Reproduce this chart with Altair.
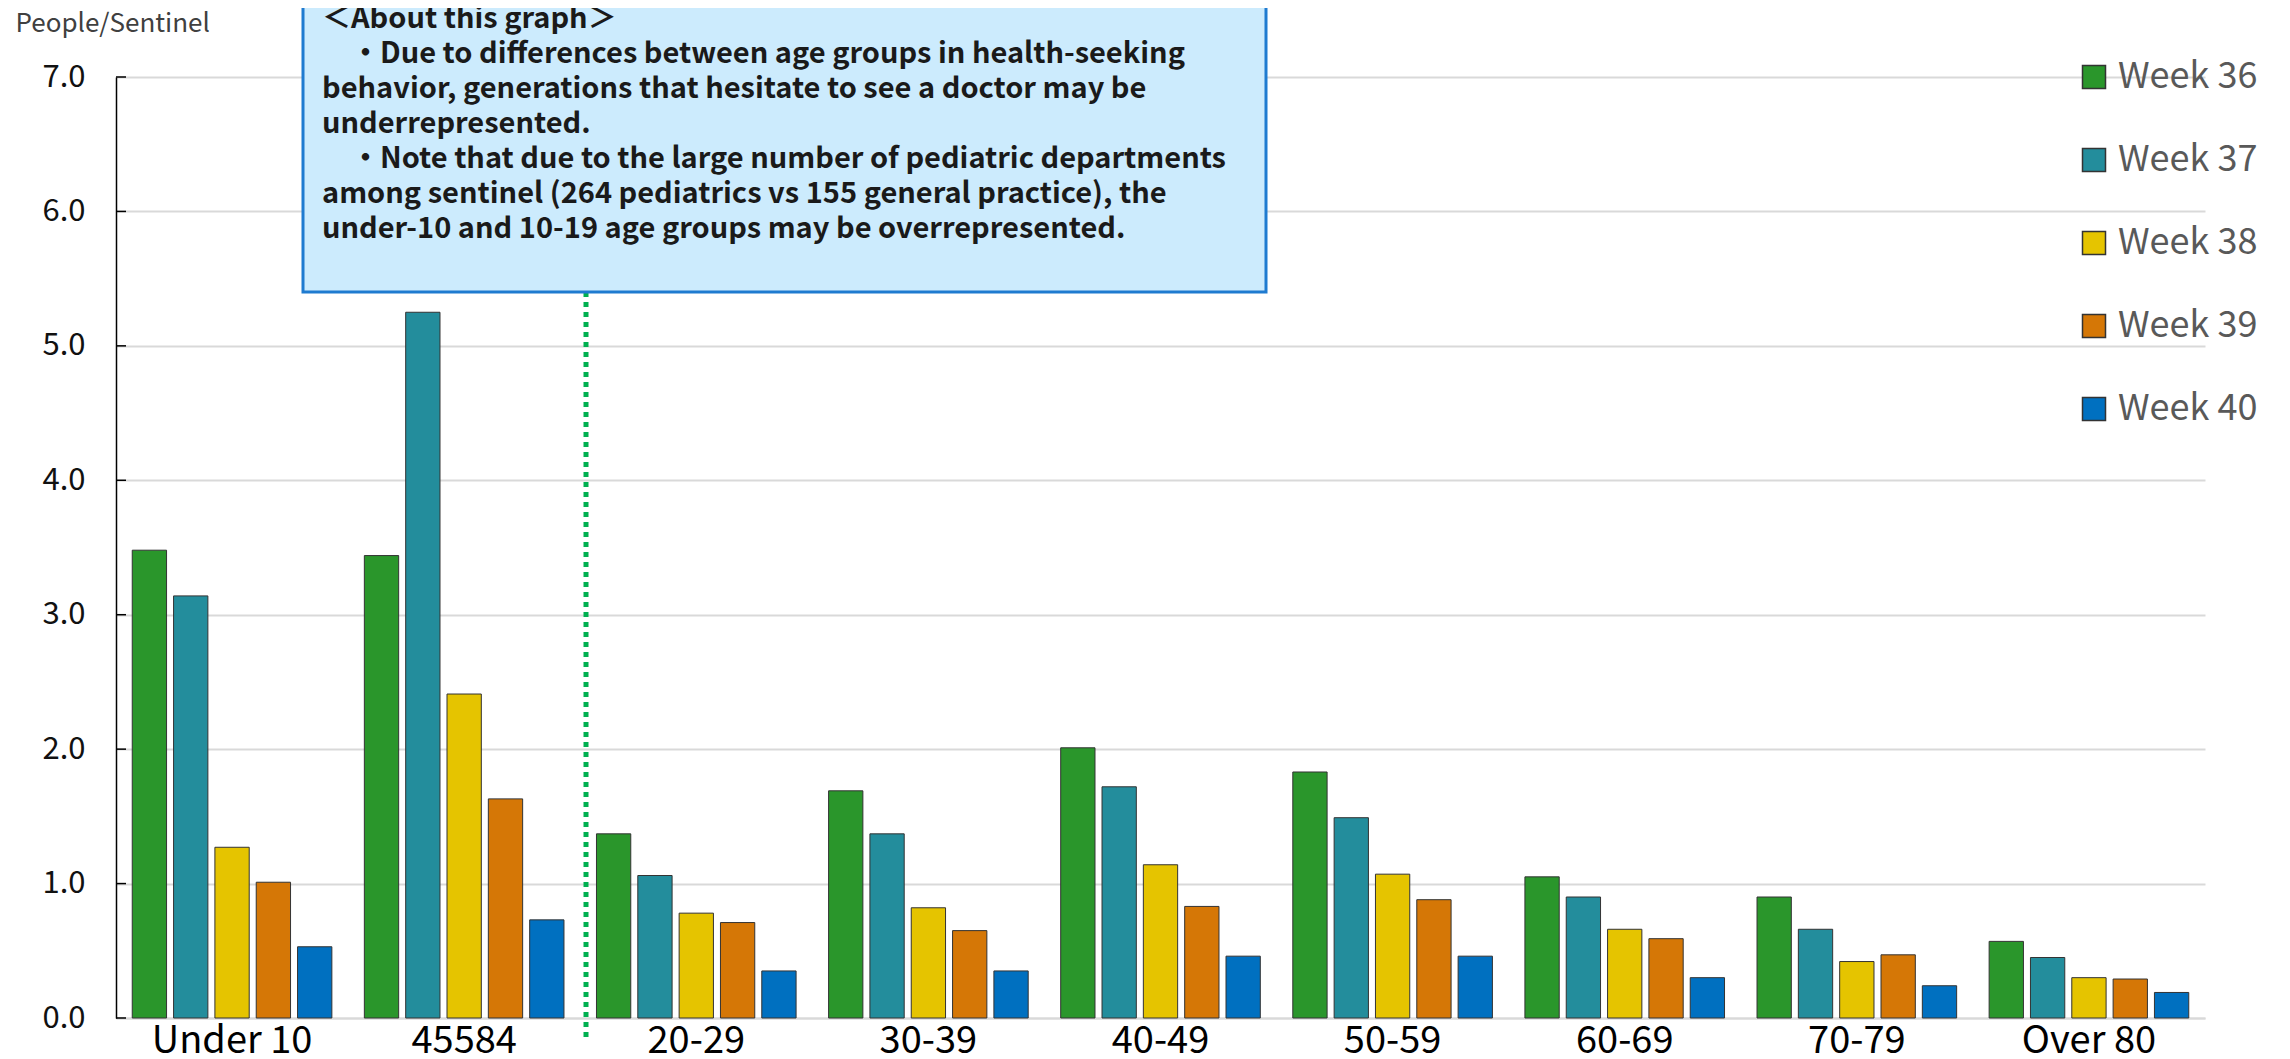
import altair as alt
import pandas as pd

groups = ["Under 10", "45584", "20-29", "30-39", "40-49", "50-59", "60-69", "70-79", "Over 80"]
weeks = ["Week 36", "Week 37", "Week 38", "Week 39", "Week 40"]
colors = ["#2A962B", "#238D9C", "#E5C400", "#D57706", "#0070C0"]

w36 = [3.48, 3.44, 1.37, 1.69, 2.01, 1.83, 1.05, 0.90, 0.57]
w37 = [3.14, 5.25, 1.06, 1.37, 1.72, 1.49, 0.90, 0.66, 0.45]
w38 = [1.27, 2.41, 0.78, 0.82, 1.14, 1.07, 0.66, 0.42, 0.30]
w39 = [1.01, 1.63, 0.71, 0.65, 0.83, 0.88, 0.59, 0.47, 0.29]
w40 = [0.53, 0.73, 0.35, 0.35, 0.46, 0.46, 0.30, 0.24, 0.19]

y_ticks = [0, 1, 2, 3, 4, 5, 6, 7]

INDENT = "\u200b\u3000"
note_lines = [
    "＜About this graph＞",
    INDENT + "・Due to differences between age groups in health-seeking",
    "behavior, generations that hesitate to see a doctor may be",
    "underrepresented.",
    INDENT + "・Note that due to the large number of pediatric departments",
    "among sentinel (264 pediatrics vs 155 general practice), the",
    "under-10 and 10-19 age groups may be overrepresented.",
]

FONT = "Noto Sans CJK JP"

rows = []
for wk, vals in zip(weeks, [w36, w37, w38, w39, w40]):
    for g, v in zip(groups, vals):
        rows.append({"group": g, "week": wk, "value": v})
df = pd.DataFrame(rows)

bars = alt.Chart(df).mark_bar(stroke="#333333", strokeWidth=1).encode(
    x=alt.X("group:N", sort=groups,
            scale=alt.Scale(paddingInner=0.14, paddingOuter=0.07),
            axis=alt.Axis(title=None, labelAngle=0, labelFontSize=38, labelFont=FONT,
                          labelColor="#000000", ticks=False, domainColor="#D9D9D9",
                          domainWidth=2, labelPadding=4)),
    xOffset=alt.XOffset("week:N", sort=weeks, scale=alt.Scale(paddingInner=0.17)),
    y=alt.Y("value:Q", scale=alt.Scale(domain=[0, 7]),
            axis=alt.Axis(title="People/Sentinel", values=y_ticks, format=".1f",
                          labelFontSize=31, labelFont=FONT, labelColor="#111111",
                          labelPadding=31, tickSize=0, grid=True, gridColor="#D9D9D9",
                          gridWidth=2, domainColor="#000000", domainWidth=1.5,
                          titleAngle=0, titleX=-101, titleY=-54, titleAlign="left",
                          titleBaseline="middle", titleFontSize=26, titleFont=FONT,
                          titleFontWeight="normal", titleColor="#404040")),
    color=alt.Color("week:N", scale=alt.Scale(domain=weeks, range=colors),
                    legend=alt.Legend(title=None, orient="none", legendX=1960, legendY=-18,
                                      direction="vertical", symbolType="square",
                                      symbolSize=529, symbolStrokeColor="#333333",
                                      symbolStrokeWidth=1.5, labelFontSize=36,
                                      labelFont=FONT, labelColor="#595959",
                                      rowPadding=47, labelOffset=6)),
)

ticks = alt.Chart(pd.DataFrame({"value": y_ticks})).mark_rule(
    color="#000000", strokeWidth=1.5).encode(
    y=alt.Y("value:Q"), x=alt.value(0), x2=alt.value(10))

divider = alt.Chart(pd.DataFrame({"a": [0]})).mark_rule(
    color="#00B050", strokeWidth=5, strokeDash=[5, 5]).encode(
    x=alt.value(470), y=alt.value(215), y2=alt.value(962))

box = alt.Chart(pd.DataFrame({"a": [0]})).mark_rect(
    fill="#CCEBFD", stroke="#1F7BD0", strokeWidth=3).encode(
    x=alt.value(187), x2=alt.value(1150), y=alt.value(-90), y2=alt.value(215))

note = alt.Chart(pd.DataFrame({"a": [0]})).mark_text(
    text=note_lines, align="left", baseline="top", font=FONT, fontSize=29,
    fontWeight="bold", lineHeight=35, color="#1a1a1a").encode(
    x=alt.value(206), y=alt.value(-72))

chart = alt.layer(bars, ticks, divider, box, note).properties(
    width=2089, height=941,
    autosize=alt.AutoSizeParams(type="none"),
    padding={"left": 108, "top": 69, "right": 75, "bottom": 35},
).configure_view(stroke=None)

chart.save("out.html", embed_options={"renderer": "svg", "actions": False})
